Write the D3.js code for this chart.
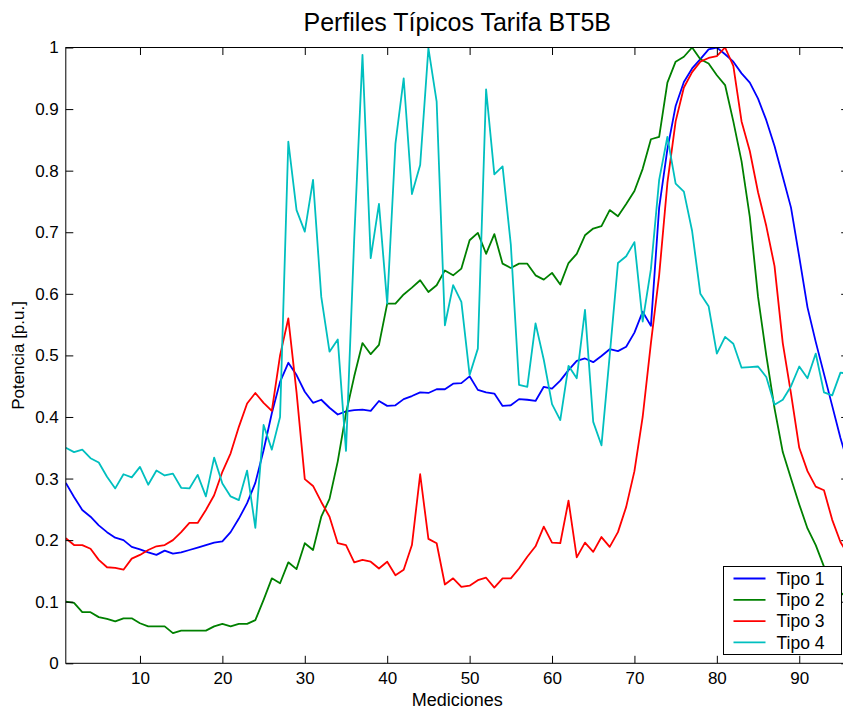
<!DOCTYPE html>
<html>
<head>
<meta charset="utf-8">
<script src="https://cdn.jsdelivr.net/npm/d3@7"></script>
<style>
  html, body { margin: 0; padding: 0; background: #fff; overflow: hidden; }
  svg { display: block; font-family: "Liberation Sans", Arial, Helvetica, sans-serif; }
</style>
</head>
<body>
<svg id="chart" width="843" height="710"></svg>
<script>
// Typical BT5B tariff load profiles, 96 quarter-hour measurements, per-unit power
const mediciones = d3.range(1, 97);

const tipo1 = [
  0.293, 0.270, 0.249, 0.238, 0.224, 0.213, 0.204, 0.200, 0.189, 0.185,
  0.180, 0.176, 0.183, 0.178, 0.180, 0.184, 0.188, 0.192, 0.196, 0.198,
  0.213, 0.235, 0.260, 0.293, 0.346, 0.406, 0.457, 0.488, 0.468, 0.441,
  0.423, 0.428, 0.415, 0.404, 0.409, 0.411, 0.412, 0.410, 0.426, 0.418,
  0.419, 0.429, 0.434, 0.440, 0.439, 0.445, 0.445, 0.454, 0.455, 0.466,
  0.444, 0.440, 0.438, 0.418, 0.419, 0.429, 0.428, 0.426, 0.449, 0.446,
  0.459, 0.476, 0.491, 0.495, 0.489, 0.499, 0.510, 0.507, 0.514, 0.537,
  0.571, 0.548, 0.740, 0.835, 0.905, 0.944, 0.966, 0.981, 0.997, 1.000,
  0.989, 0.977, 0.958, 0.943, 0.917, 0.882, 0.840, 0.790, 0.740, 0.660,
  0.578, 0.522, 0.470, 0.418, 0.366, 0.320
];

const tipo2 = [
  0.100, 0.098, 0.083, 0.083, 0.075, 0.072, 0.068, 0.073, 0.073, 0.065,
  0.060, 0.060, 0.060, 0.049, 0.053, 0.053, 0.053, 0.053, 0.060, 0.064,
  0.060, 0.064, 0.064, 0.070, 0.103, 0.138, 0.130, 0.164, 0.153, 0.195,
  0.184, 0.238, 0.267, 0.328, 0.406, 0.466, 0.520, 0.502, 0.517, 0.584,
  0.584, 0.599, 0.610, 0.622, 0.603, 0.614, 0.638, 0.630, 0.641, 0.687,
  0.699, 0.665, 0.697, 0.649, 0.642, 0.649, 0.649, 0.630, 0.623, 0.634,
  0.615, 0.650, 0.665, 0.695, 0.706, 0.710, 0.736, 0.726, 0.746, 0.767,
  0.803, 0.851, 0.855, 0.943, 0.977, 0.985, 1.000, 0.981, 0.974, 0.955,
  0.939, 0.880, 0.815, 0.725, 0.595, 0.500, 0.414, 0.343, 0.300, 0.258,
  0.219, 0.192, 0.157, 0.130, 0.115, 0.105
];

const tipo3 = [
  0.203, 0.192, 0.192, 0.186, 0.168, 0.156, 0.155, 0.152, 0.170, 0.176,
  0.184, 0.190, 0.192, 0.200, 0.213, 0.228, 0.228, 0.249, 0.273, 0.311,
  0.341, 0.384, 0.422, 0.439, 0.423, 0.410, 0.500, 0.560, 0.440, 0.299,
  0.288, 0.262, 0.238, 0.195, 0.192, 0.164, 0.168, 0.165, 0.154, 0.165,
  0.143, 0.152, 0.192, 0.307, 0.202, 0.195, 0.128, 0.138, 0.124, 0.126,
  0.135, 0.139, 0.123, 0.138, 0.138, 0.154, 0.173, 0.190, 0.222, 0.196,
  0.195, 0.264, 0.172, 0.196, 0.181, 0.205, 0.189, 0.213, 0.254, 0.312,
  0.400, 0.520, 0.630, 0.780, 0.880, 0.935, 0.960, 0.977, 0.983, 0.986,
  1.000, 0.970, 0.880, 0.832, 0.765, 0.710, 0.645, 0.520, 0.438, 0.350,
  0.312, 0.287, 0.281, 0.233, 0.197, 0.175
];

const tipo4 = [
  0.350, 0.343, 0.347, 0.333, 0.326, 0.303, 0.284, 0.307, 0.302, 0.319,
  0.290, 0.313, 0.305, 0.308, 0.285, 0.284, 0.306, 0.271, 0.334, 0.292,
  0.271, 0.265, 0.313, 0.220, 0.387, 0.347, 0.400, 0.847, 0.736, 0.701,
  0.785, 0.595, 0.506, 0.526, 0.345, 0.690, 0.988, 0.658, 0.746, 0.584,
  0.844, 0.950, 0.762, 0.809, 0.999, 0.912, 0.549, 0.614, 0.587, 0.468,
  0.511, 0.932, 0.794, 0.807, 0.680, 0.452, 0.449, 0.552, 0.493, 0.421,
  0.395, 0.483, 0.463, 0.574, 0.392, 0.354, 0.500, 0.650, 0.661, 0.684,
  0.555, 0.640, 0.785, 0.855, 0.779, 0.766, 0.702, 0.600, 0.580, 0.503,
  0.530, 0.519, 0.480, 0.481, 0.482, 0.465, 0.420, 0.428, 0.450, 0.482,
  0.463, 0.503, 0.440, 0.435, 0.472, 0.470
];

const nombres = ["Tipo 1", "Tipo 2", "Tipo 3", "Tipo 4"];
const colores = ["#0000ff", "#008000", "#ff0000", "#00bfbf"];
const xTicks = [10, 20, 30, 40, 50, 60, 70, 80, 90];
const yTicks = [0, 0.1, 0.2, 0.3, 0.4, 0.5, 0.6, 0.7, 0.8, 0.9, 1];

const series = [tipo1, tipo2, tipo3, tipo4];

const svg = d3.select("#chart");
const m = { left: 65.8, right: 848.7, top: 47.5, bottom: 663.3 };
const tickLen = 7.5;
const fs = 17;

const x = d3.scaleLinear().domain([1, 96]).range([m.left, m.right]);
const y = d3.scaleLinear().domain([0, 1]).range([m.bottom, m.top]);

svg.append("defs").append("clipPath").attr("id", "plotArea")
  .append("rect").attr("x", m.left).attr("y", m.top)
  .attr("width", m.right - m.left).attr("height", m.bottom - m.top);

// curves
const line = d3.line().x((d, i) => x(mediciones[i])).y(d => y(d));
svg.append("g").attr("clip-path", "url(#plotArea)")
  .selectAll("path").data(series).join("path")
  .attr("d", line)
  .attr("fill", "none")
  .attr("stroke", (d, i) => colores[i])
  .attr("stroke-width", 1.8)
  .attr("stroke-linejoin", "round");

// axes with inward ticks on all four sides
const fmtY = d => d === 0 ? "0" : d === 1 ? "1" : d3.format(".1f")(d);

function styleAxis(g) {
  g.select(".domain").remove();
  g.selectAll(".tick line").attr("stroke", "#000").attr("stroke-width", 1);
  g.selectAll(".tick text").attr("fill", "#000").attr("font-size", fs)
    .attr("font-family", "'Liberation Sans', Arial, sans-serif");
}

svg.append("g").attr("transform", `translate(0,${m.bottom})`)
  .call(d3.axisBottom(x).tickValues(xTicks).tickSize(-tickLen).tickPadding(9))
  .call(styleAxis);
svg.append("g").attr("transform", `translate(0,${m.top})`)
  .call(d3.axisTop(x).tickValues(xTicks).tickSize(-tickLen).tickFormat(""))
  .call(styleAxis);
svg.append("g").attr("transform", `translate(${m.left},0)`)
  .call(d3.axisLeft(y).tickValues(yTicks).tickSize(-tickLen).tickPadding(7).tickFormat(fmtY))
  .call(styleAxis);
svg.append("g").attr("transform", `translate(${m.right},0)`)
  .call(d3.axisRight(y).tickValues(yTicks).tickSize(-tickLen).tickFormat(""))
  .call(styleAxis);

svg.append("rect")
  .attr("x", m.left).attr("y", m.top)
  .attr("width", m.right - m.left).attr("height", m.bottom - m.top)
  .attr("fill", "none").attr("stroke", "#000").attr("stroke-width", 1);

// labels
svg.append("text").attr("x", (m.left + m.right) / 2).attr("y", 31)
  .attr("text-anchor", "middle").attr("font-size", 25)
  .text("Perfiles Típicos Tarifa BT5B");
svg.append("text").attr("x", (m.left + m.right) / 2).attr("y", 706)
  .attr("text-anchor", "middle").attr("font-size", 18)
  .text("Mediciones");
svg.append("text")
  .attr("transform", `translate(24,${(m.top + m.bottom) / 2}) rotate(-90)`)
  .attr("text-anchor", "middle").attr("font-size", fs)
  .text("Potencia [p.u.]");

// legend
const lg = svg.append("g").attr("transform", "translate(723.5,566.5)");
lg.append("rect").attr("width", 118).attr("height", 88)
  .attr("fill", "#fff").attr("stroke", "#000").attr("stroke-width", 1);
const rows = lg.selectAll("g").data(nombres).join("g")
  .attr("transform", (d, i) => `translate(0,${12 + i * 21.3})`);
rows.append("line").attr("x1", 10).attr("x2", 42)
  .attr("stroke", (d, i) => colores[i]).attr("stroke-width", 1.8);
rows.append("text").attr("x", 53).attr("y", 0).attr("dy", "0.36em")
  .attr("font-size", 17.5).text(d => d);
</script>
</body>
</html>
